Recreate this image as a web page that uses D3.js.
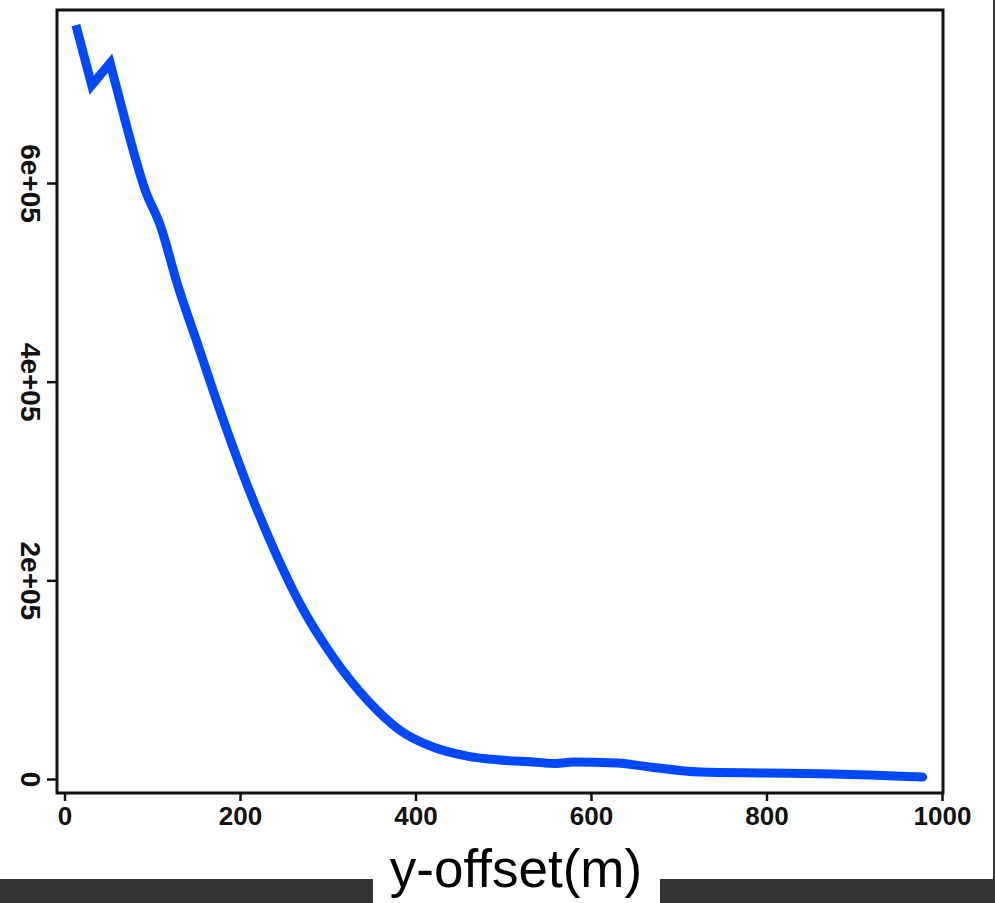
<!DOCTYPE html>
<html>
<head>
<meta charset="utf-8">
<script src="https://cdn.jsdelivr.net/npm/d3@7/dist/d3.min.js"></script>
<style>
  html, body { margin: 0; padding: 0; background: #fff; }
  svg { display: block; }
</style>
</head>
<body>
<script>
// Data
const offsets = [13, 31, 52, 69, 92, 109, 129, 154, 177, 206, 234, 268, 306, 345, 382, 420, 459, 496, 534, 560, 580, 630, 667, 724, 800, 876, 978];
const values  = [758900, 698500, 720700, 663300, 592800, 557600, 497200, 431800, 371400, 301000, 240600, 177100, 122800, 79500, 49300, 32200, 23100, 19100, 17100, 15600, 17100, 16100, 12100, 7000, 6000, 5000, 2000];
const xTicks = [0, 200, 400, 600, 800, 1000];
const yTicks = [0, 200000, 400000, 600000];
const yTickLabels = ["0", "2e+05", "4e+05", "6e+05"];
const xTitle = "y-offset(m)";

const W = 995, H = 903;
const svg = d3.select("body").append("svg").attr("width", W).attr("height", H);
svg.append("rect").attr("width", W).attr("height", H).attr("fill", "#fff");

const box = { left: 57, right: 943, top: 10, bottom: 793 };
const x = d3.scaleLinear().domain([0, 1000]).range([64.5, 942]);
const y = d3.scaleLinear().domain([0, 600000]).range([779, 183]);

// curve: sharp zig-zag at the start, smooth afterwards
const data = offsets.map((d, i) => ({ x: d, y: values[i] }));
const headLine = d3.line().x(d => x(d.x)).y(d => y(d.y)).curve(d3.curveLinear);
const tailLine = d3.line().x(d => x(d.x)).y(d => y(d.y)).curve(d3.curveMonotoneX);
const lineStyle = sel => sel
  .attr("fill", "none")
  .attr("stroke", "#0048ff")
  .attr("stroke-width", 9)
  .attr("stroke-linejoin", "miter")
  .attr("stroke-miterlimit", 3)
  .attr("stroke-linecap", "round");
svg.append("path").datum(data.slice(0, 4)).attr("d", headLine).call(lineStyle).attr("stroke-linecap", "butt");
svg.append("path").datum(data.slice(3)).attr("d", tailLine).call(lineStyle);

// plot box
svg.append("rect")
  .attr("x", box.left).attr("y", box.top)
  .attr("width", box.right - box.left).attr("height", box.bottom - box.top)
  .attr("fill", "none").attr("stroke", "#111").attr("stroke-width", 3);

// x axis
const gx = svg.append("g").attr("transform", `translate(0,${box.bottom})`)
  .call(d3.axisBottom(x).tickValues(xTicks).tickSize(8).tickPadding(6).tickFormat(d3.format("d")));
gx.select(".domain").remove();
gx.selectAll(".tick line").attr("stroke", "#111").attr("stroke-width", 2.5);
gx.selectAll(".tick text")
  .attr("fill", "#111")
  .style("font-family", "'Liberation Sans', Arial, sans-serif")
  .style("font-size", "26px").style("font-weight", "bold");

// y axis
const gy = svg.append("g").attr("transform", `translate(${box.left},0)`)
  .call(d3.axisLeft(y).tickValues(yTicks).tickSize(10).tickFormat((d, i) => yTickLabels[i]));
gy.select(".domain").remove();
gy.selectAll(".tick line").attr("stroke", "#111").attr("stroke-width", 2.5);
gy.selectAll(".tick text")
  .attr("x", 0).attr("dy", "0.35em")
  .attr("text-anchor", "middle")
  .attr("transform", "translate(-26,0) rotate(90)")
  .attr("fill", "#111")
  .style("font-family", "'Liberation Sans', Arial, sans-serif")
  .style("font-size", "28px").style("font-weight", "bold");

// bottom dark bars and right edge
svg.append("rect").attr("x", 0).attr("y", 879).attr("width", 373).attr("height", H - 879).attr("fill", "#333");
svg.append("rect").attr("x", 660).attr("y", 879).attr("width", W - 660).attr("height", H - 879).attr("fill", "#333");
svg.append("rect").attr("x", 993).attr("y", 0).attr("width", 2).attr("height", 879).attr("fill", "#333");

// x title
svg.append("text")
  .attr("x", 516).attr("y", 887)
  .attr("text-anchor", "middle")
  .attr("fill", "#000")
  .style("font-family", "'Liberation Sans', Arial, sans-serif")
  .style("font-size", "53px")
  .text(xTitle);
</script>
</body>
</html>
